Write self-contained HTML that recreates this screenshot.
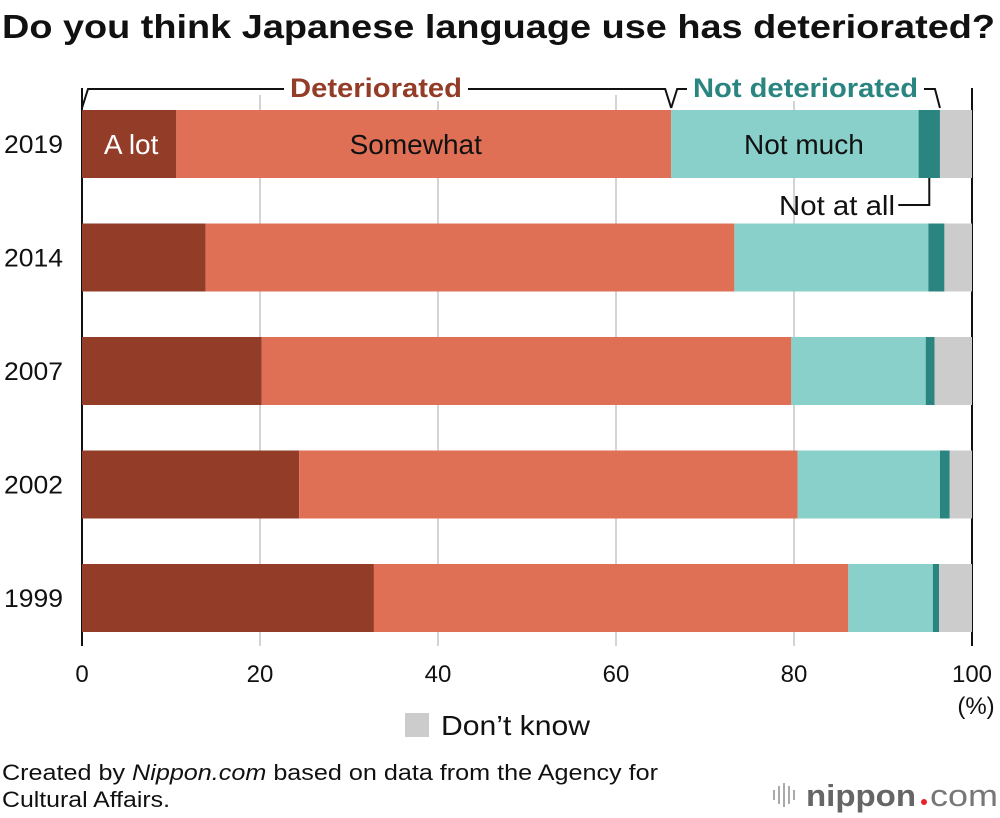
<!DOCTYPE html>
<html><head><meta charset="utf-8"><style>
body{margin:0;background:#fff;}
svg{display:block;font-family:"Liberation Sans",Arial,sans-serif;}
</style></head><body>
<svg id="c" width="1000" height="818" viewBox="0 0 1000 818">
<text x="2" y="38" font-size="33" font-weight="bold" fill="#111" textLength="993" lengthAdjust="spacingAndGlyphs">Do you think Japanese language use has deteriorated?</text>
<g id="grid"></g>
<g id="bars"></g>
<g id="ann"></g>
<g id="ticks"></g>
<text x="976" y="714" font-size="24" text-anchor="middle" fill="#111">(%)</text>
<rect x="405" y="713" width="24" height="24" fill="#cccccc"/>
<text x="441" y="735" font-size="28" fill="#111" textLength="149" lengthAdjust="spacingAndGlyphs">Don’t know</text>
<text x="2" y="780" font-size="22" fill="#111" textLength="656" lengthAdjust="spacingAndGlyphs">Created by <tspan font-style="italic">Nippon.com</tspan> based on data from the Agency for</text>
<text x="2" y="807" font-size="22" fill="#111" textLength="168" lengthAdjust="spacingAndGlyphs">Cultural Affairs.</text>
<g>
<g stroke="#aaa" stroke-width="2"><line x1="774" y1="790" x2="774" y2="800"/><line x1="779" y1="786" x2="779" y2="804"/><line x1="784" y1="783" x2="784" y2="807"/><line x1="789" y1="786" x2="789" y2="804"/><line x1="794" y1="790" x2="794" y2="800"/></g>
<text x="806" y="806" font-size="31" font-weight="bold" fill="#666" textLength="110" lengthAdjust="spacingAndGlyphs">nippon</text>
<circle cx="924" cy="802" r="3" fill="#e8212a"/>
<text x="930" y="806" font-size="31" fill="#777" textLength="68" lengthAdjust="spacingAndGlyphs">com</text>
</g>
</svg>
<script>
const years=["2019","2014","2007","2002","1999"];
const aLot=[10.6,13.9,20.2,24.4,32.8];
const somewhat=[55.6,59.4,59.5,56.0,53.3];
const notMuch=[27.8,21.8,15.1,16.0,9.5];
const notAtAll=[2.4,1.8,1.0,1.1,0.7];
const dontKnow=[3.6,3.1,4.2,2.5,3.7];
const tickVals=[0,20,40,60,80,100];
const NS="http://www.w3.org/2000/svg";
const x=v=>82+v*8.9;
const yTop=i=>110+i*113.5;
const BH=68;
function mk(tag,attrs,parent,txt){const e=document.createElementNS(NS,tag);for(const k in attrs)e.setAttribute(k,attrs[k]);if(txt!==undefined)e.textContent=txt;parent.appendChild(e);return e;}
const grid=document.getElementById('grid'),bars=document.getElementById('bars'),ann=document.getElementById('ann'),ticks=document.getElementById('ticks');
tickVals.forEach(t=>{
  const edge=(t===0||t===100);
  const l=mk('line',{x1:x(t),x2:x(t),y1:edge?88:95,y2:646,stroke:edge?'#111':'#d4d4d4','stroke-width':2},grid);
  
  
  const tx=mk('text',{x:x(t),y:682,'font-size':24,'text-anchor':'middle',fill:'#111'},ticks,String(t));
  
  
});
const series=[["a-lot",aLot,"#933c28"],["somewhat",somewhat,"#e07055"],["not-much",notMuch,"#88d0c9"],["not-at-all",notAtAll,"#2a8580"],["dont-know",dontKnow,"#cccccc"]];
years.forEach((yr,i)=>{
  let acc=0;
  series.forEach(s=>{
    const v=s[1][i];
    const r=mk('rect',{x:x(acc),y:yTop(i),width:v*8.9,height:BH,fill:s[2]},bars);
    
    
    acc+=v;
  });
  const t=mk('text',{x:4,y:yTop(i)+BH/2+9,'font-size':25,fill:'#111',textLength:59,lengthAdjust:'spacingAndGlyphs'},bars,yr);
  
  
});
const cy=yTop(0)+BH/2+10;
let e;
e=mk('text',{x:x(aLot[0]/2)+2,y:cy,'font-size':28,'text-anchor':'middle',fill:'#fff'},ann,'A lot');

e=mk('text',{x:x(aLot[0]+somewhat[0]/2)-8,y:cy,'font-size':28,'text-anchor':'middle',fill:'#111'},ann,'Somewhat');

e=mk('text',{x:x(aLot[0]+somewhat[0]+notMuch[0]/2)+9,y:cy,'font-size':28,'text-anchor':'middle',fill:'#111'},ann,'Not much');

const d1=aLot[0]+somewhat[0], d2=d1+notMuch[0]+notAtAll[0];
e=mk('path',{d:`M${x(0)},108 L${x(0)+6},89 L${x(d1)-6},89 L${x(d1)},108`,fill:'none',stroke:'#111','stroke-width':2},ann);

e=mk('path',{d:`M${x(d1)},108 L${x(d1)+6},89 L${x(d2)-5},89 L${x(d2)},108`,fill:'none',stroke:'#111','stroke-width':2},ann);

mk('rect',{x:284,y:75,width:184,height:26,fill:'#fff'},ann);
mk('rect',{x:687,y:75,width:237,height:26,fill:'#fff'},ann);
e=mk('text',{x:290,y:97,'font-size':27,'font-weight':'bold',fill:'#933c28',textLength:172,lengthAdjust:'spacingAndGlyphs'},ann,'Deteriorated');

e=mk('text',{x:693,y:97,'font-size':27,'font-weight':'bold',fill:'#2a8580',textLength:225,lengthAdjust:'spacingAndGlyphs'},ann,'Not deteriorated');

const nx=x(aLot[0]+somewhat[0]+notMuch[0]+notAtAll[0]/2);
e=mk('path',{d:`M${nx},178 L${nx},205 L${nx-31},205`,fill:'none',stroke:'#111','stroke-width':2},ann);

e=mk('text',{x:779,y:215,'font-size':28,fill:'#111',textLength:116,lengthAdjust:'spacingAndGlyphs'},ann,'Not at all');

</script>
</body></html>
